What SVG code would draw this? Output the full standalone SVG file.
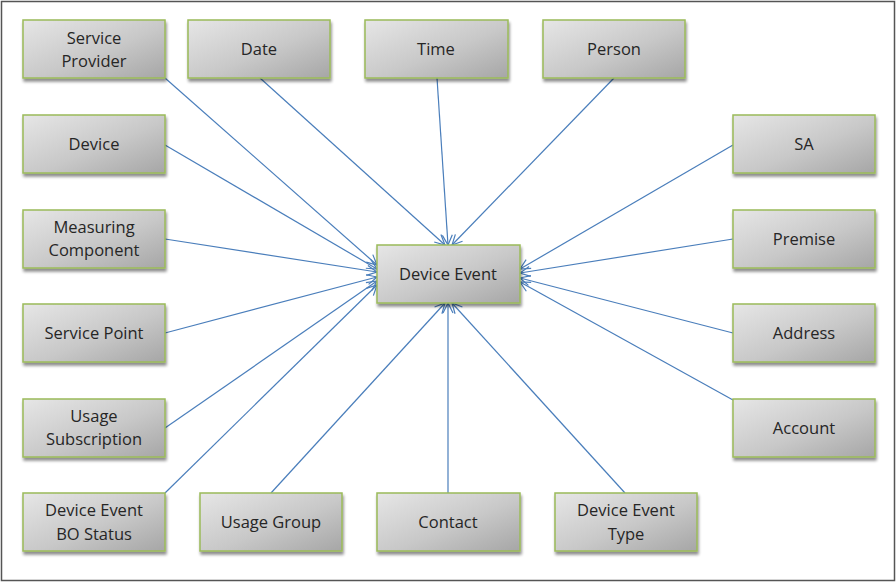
<svg xmlns="http://www.w3.org/2000/svg" width="896" height="583" viewBox="0 0 896 583">
<defs>
<linearGradient id="g" x1="0" y1="0" x2="1" y2="1">
<stop offset="0" stop-color="#e6e6e6"/>
<stop offset="0.55" stop-color="#c8c8c8"/>
<stop offset="1" stop-color="#a6a6a6"/>
</linearGradient>
<filter id="sh" x="-10%" y="-10%" width="130%" height="140%">
<feGaussianBlur in="SourceAlpha" stdDeviation="1.5"/>
<feOffset dx="1" dy="3"/>
<feComponentTransfer><feFuncA type="linear" slope="0.45"/></feComponentTransfer>
<feMerge><feMergeNode/><feMergeNode in="SourceGraphic"/></feMerge>
</filter>
<marker id="arr" viewBox="0 0 12 12" refX="11" refY="6" markerWidth="12" markerHeight="12" markerUnits="userSpaceOnUse" orient="auto">
<path d="M1,1 L11,6 L1,11" fill="none" stroke="#4a7ebb" stroke-width="1.2"/>
</marker>
</defs>
<style>
.b{fill:url(#g);stroke:#9bbb59;stroke-width:1.5;filter:url(#sh)}
.t{font-family:"Open Sans","Liberation Sans",sans-serif;font-size:16.5px;fill:#262626;text-anchor:middle}
.c line{stroke:#4a7ebb;stroke-width:1.2;marker-end:url(#arr)}
</style>
<rect x="1.5" y="1.5" width="893" height="579" fill="#fff" stroke="#555" stroke-width="1.5"/>
<g class="c" id="connectors">
<line x1="165" y1="78" x2="377" y2="265"/>
<line x1="165" y1="145" x2="377" y2="269"/>
<line x1="165" y1="239" x2="377" y2="272"/>
<line x1="165" y1="333" x2="377" y2="277"/>
<line x1="165" y1="428" x2="377" y2="281"/>
<line x1="165" y1="493" x2="377" y2="285"/>
<line x1="260" y1="78" x2="445" y2="245"/>
<line x1="437" y1="78" x2="448" y2="245"/>
<line x1="614" y1="78" x2="452" y2="245"/>
<line x1="733" y1="145" x2="520" y2="269"/>
<line x1="733" y1="239" x2="520" y2="273"/>
<line x1="733" y1="333" x2="520" y2="278"/>
<line x1="733" y1="400" x2="520" y2="282"/>
<line x1="271" y1="493" x2="445" y2="303"/>
<line x1="448" y1="493" x2="448" y2="303"/>
<line x1="625" y1="493" x2="452" y2="303"/>
</g>
<g id="service-provider"><rect class="b" x="23" y="20" width="142" height="58"/><text class="t" x="94" y="44">Service</text><text class="t" x="94" y="67">Provider</text></g>
<g id="date"><rect class="b" x="188" y="20" width="142" height="58"/><text class="t" x="259" y="55">Date</text></g>
<g id="time"><rect class="b" x="365" y="20" width="143" height="58"/><text class="t" x="436" y="55">Time</text></g>
<g id="person"><rect class="b" x="543" y="20" width="142" height="58"/><text class="t" x="614" y="55">Person</text></g>
<g id="device"><rect class="b" x="23" y="115" width="142" height="58"/><text class="t" x="94" y="150">Device</text></g>
<g id="sa"><rect class="b" x="733" y="115" width="142" height="58"/><text class="t" x="804" y="150">SA</text></g>
<g id="measuring-component"><rect class="b" x="23" y="210" width="142" height="58"/><text class="t" x="94" y="233">Measuring</text><text class="t" x="94" y="256">Component</text></g>
<g id="premise"><rect class="b" x="733" y="210" width="142" height="58"/><text class="t" x="804" y="245">Premise</text></g>
<g id="device-event"><rect class="b" x="377" y="245" width="143" height="58"/><text class="t" x="448" y="280">Device Event</text></g>
<g id="service-point"><rect class="b" x="23" y="304" width="142" height="58"/><text class="t" x="94" y="339">Service Point</text></g>
<g id="address"><rect class="b" x="733" y="304" width="142" height="58"/><text class="t" x="804" y="339">Address</text></g>
<g id="usage-subscription"><rect class="b" x="23" y="399" width="142" height="58"/><text class="t" x="94" y="422">Usage</text><text class="t" x="94" y="445">Subscription</text></g>
<g id="account"><rect class="b" x="733" y="399" width="142" height="58"/><text class="t" x="804" y="434">Account</text></g>
<g id="device-event-bo-status"><rect class="b" x="23" y="493" width="142" height="58"/><text class="t" x="94" y="516">Device Event</text><text class="t" x="94" y="540">BO Status</text></g>
<g id="usage-group"><rect class="b" x="200" y="493" width="142" height="58"/><text class="t" x="271" y="528">Usage Group</text></g>
<g id="contact"><rect class="b" x="377" y="493" width="143" height="58"/><text class="t" x="448" y="528">Contact</text></g>
<g id="device-event-type"><rect class="b" x="555" y="493" width="142" height="58"/><text class="t" x="626" y="516">Device Event</text><text class="t" x="626" y="540">Type</text></g>
</svg>
